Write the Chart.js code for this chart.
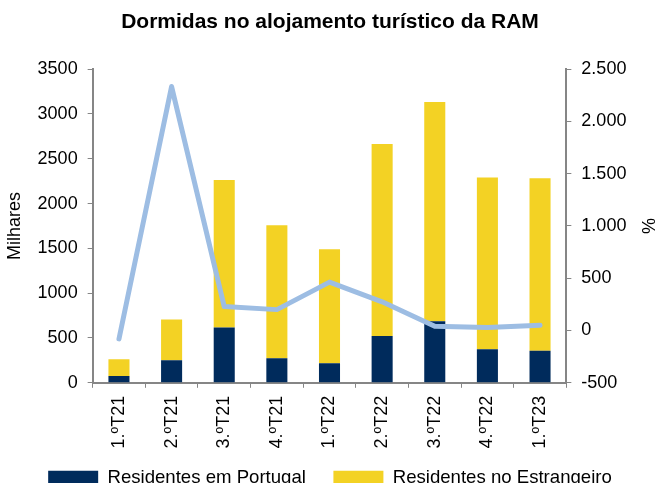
<!DOCTYPE html>
<html>
<head>
<meta charset="utf-8">
<script src="https://cdn.jsdelivr.net/npm/chart.js@4"></script>
<style>
  body { margin: 0; background: #fff; }
  #c { display: block; }
</style>
</head>
<body>
<canvas id="c" width="656" height="483"></canvas>
<script>
// trimestres
var quarters = ["1.ºT21", "2.ºT21", "3.ºT21", "4.ºT21", "1.ºT22", "2.ºT22", "3.ºT22", "4.ºT22", "1.ºT23"];
// dormidas, milhares
var res_portugal = [75, 251, 616, 274, 217, 521, 687, 375, 357];
var res_estrangeiro = [187, 455, 1647, 1483, 1273, 2144, 2447, 1915, 1925];
// variacao homologa, %
var var_pct = [-80, 2334, 229, 200, 463, 275, 40, 29, 51];

var axis_grey = "#868686";
var font_base = { family: "'Liberation Sans', Arial, sans-serif", size: 18 };

function fmt_pt(v) {
	var s = Math.abs(v).toString().replace(/\B(?=(\d{3})+(?!\d))/g, ".");
	return (v < 0 ? "-" : "") + s;
}

var ctx = document.getElementById("c");
var chart = new Chart(ctx, {
	type: 'bar',
	data: {
		labels: quarters,
		datasets: [{
			label: "Residentes em Portugal",
			data: res_portugal,
			backgroundColor: "#002b5c",
			stack: "s",
			order: 1,
			barPercentage: 0.8,
			categoryPercentage: 0.5
		}, {
			label: "Residentes no Estrangeiro",
			data: res_estrangeiro,
			backgroundColor: "#f3d224",
			stack: "s",
			order: 1,
			barPercentage: 0.8,
			categoryPercentage: 0.5
		}, {
			type: 'line',
			label: "Variação",
			data: var_pct,
			yAxisID: 'y1',
			borderColor: "#9dbde3",
			borderWidth: 5,
			pointRadius: 0,
			tension: 0,
			borderCapStyle: 'round',
			borderJoinStyle: 'round',
			order: 0
		}]
	},
	options: {
		responsive: false,
		animation: false,
		layout: { padding: { left: 2, right: -2, top: 0, bottom: -14 } },
		plugins: {
			title: {
				display: true,
				text: "Dormidas no alojamento turístico da RAM",
				color: "#000",
				font: { family: font_base.family, size: 21, weight: 'bold' },
				padding: { top: 10, bottom: 34 }
			},
			legend: {
				position: 'bottom',
				labels: {
					color: "#000",
					font: { family: font_base.family, size: 18.6 },
					boxWidth: 50,
					boxHeight: 14,
					padding: 12,
					// espaco extra entre as duas entradas
					generateLabels: function (c) {
						var items = Chart.defaults.plugins.legend.labels.generateLabels(c);
						items = items.filter(function (it) { return it.datasetIndex < 2; });
						items[0].text = items[0].text + "   ";
						return items;
					}
				}
			},
			tooltip: { enabled: false }
		},
		scales: {
			x: {
				stacked: true,
				grid: { drawOnChartArea: false, color: axis_grey, tickLength: 5 },
				border: { color: axis_grey, width: 2 },
				ticks: { color: "#000", font: font_base, minRotation: 90, maxRotation: 90, padding: 8 }
			},
			y: {
				stacked: true,
				min: 0,
				max: 3500,
				position: 'left',
				grid: { drawOnChartArea: false, color: axis_grey, tickLength: 5 },
				border: { color: axis_grey, width: 2 },
				ticks: { color: "#000", font: font_base, stepSize: 500, padding: 10, callback: function (v) { return String(v); } },
				title: { display: true, text: "Milhares", color: "#000", font: font_base, padding: 2 }
			},
			y1: {
				min: -500,
				max: 2500,
				position: 'right',
				grid: { drawOnChartArea: false, color: axis_grey, tickLength: 5 },
				border: { color: axis_grey, width: 2 },
				ticks: { color: "#000", font: font_base, stepSize: 500, padding: 10, callback: function (v) { return fmt_pt(v); } },
				title: { display: true, text: "%", color: "#000", font: font_base, padding: 0 }
			}
		}
	}
});
</script>
</body>
</html>
